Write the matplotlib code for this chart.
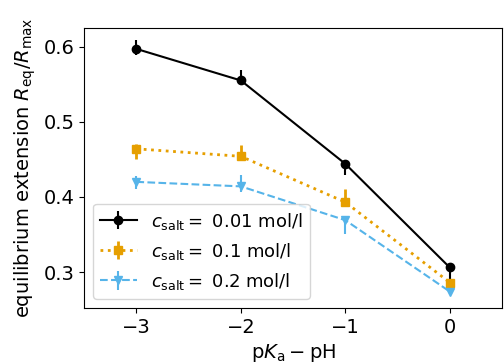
import matplotlib
matplotlib.use("Agg")
import matplotlib.pyplot as plt

# pKa - pH values
dpk = [-3, -2, -1, 0]

# equilibrium extension for each salt concentration
r_001 = [0.597, 0.555, 0.444, 0.306]
r_01 = [0.464, 0.454, 0.393, 0.286]
r_02 = [0.420, 0.414, 0.369, 0.274]

# error bars (lower, upper)
err_001 = [[0.008, 0.004, 0.015, 0.021], [0.012, 0.014, 0.005, 0.004]]
err_01 = [[0.013, 0.004, 0.004, 0.003], [0.006, 0.015, 0.017, 0.003]]
err_02 = [[0.010, 0.007, 0.018, 0.003], [0.008, 0.015, 0.004, 0.003]]

labels = [r'$c_\mathrm{salt} = $ 0.01 mol/l',
          r'$c_\mathrm{salt} = $ 0.1 mol/l',
          r'$c_\mathrm{salt} = $ 0.2 mol/l']

fig, ax = plt.subplots(figsize=(5.04, 3.62), dpi=100)

ax.errorbar(dpk, r_001, yerr=err_001, color='black', marker='o', ls='-',
            label=labels[0])
ax.errorbar(dpk, r_01, yerr=err_01, color='#E69F00', marker='s', ls=':',
            lw=2, label=labels[1])
ax.errorbar(dpk, r_02, yerr=err_02, color='#56B4E9', marker='v', ls='--',
            label=labels[2])

ax.set_xlim(-3.5, 0.5)
ax.set_ylim(0.252, 0.625)
ax.set_xticks([-3, -2, -1, 0])
ax.set_yticks([0.3, 0.4, 0.5, 0.6])
ax.tick_params(labelsize=14)
ax.set_xlabel(r'p$K_\mathrm{a} - $pH', fontsize=14)
ax.set_ylabel(r'equilibrium extension $R_\mathrm{eq}/R_\mathrm{max}$', fontsize=14)
ax.legend(loc='lower left', fontsize=13)

fig.subplots_adjust(left=0.167, right=0.996, top=0.923, bottom=0.149)
fig.savefig('out.png')
